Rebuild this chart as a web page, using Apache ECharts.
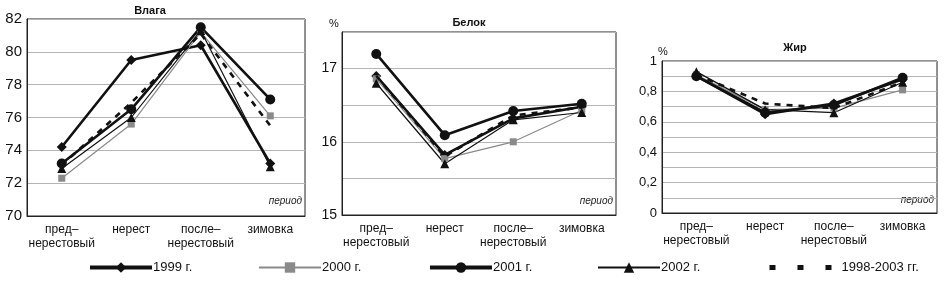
<!DOCTYPE html>
<html>
<head>
<meta charset="utf-8">
<script src="https://cdn.jsdelivr.net/npm/echarts@6/dist/echarts.min.js"></script>
<style>
  html, body { margin: 0; padding: 0; background: #fff; }
  #chart { width: 945px; height: 285px; }
</style>
</head>
<body>
<div id="chart"></div>
<script>
// периоды
const periods = ['пред–\nнерестовый', 'нерест', 'после–\nнерестовый', 'зимовка'];
const years = ['1999 г.', '2000 г.', '2001 г.', '2002 г.', '1998-2003 гг.'];

// Влага
const moisture1999 = [74.2, 79.5, 80.4, 73.2];
const moisture2000 = [72.3, 75.6, 81.2, 76.1];
const moisture2001 = [73.2, 76.5, 81.5, 77.1];
const moisture2002 = [72.9, 76.0, 81.3, 73.0];
const moistureAvg = [73.1, 76.9, 81.1, 75.5];

// Белок
const protein1999 = [16.9, 15.82, 16.32, 16.48];
const protein2000 = [16.86, 15.77, 16.0, 16.43];
const protein2001 = [17.2, 16.09, 16.42, 16.52];
const protein2002 = [16.8, 15.7, 16.3, 16.4];
const proteinAvg = [16.9, 15.8, 16.36, 16.47];

// Жир
const fat1999 = [0.9, 0.65, 0.72, 0.88];
const fat2000 = [0.91, 0.68, 0.69, 0.81];
const fat2001 = [0.9, 0.66, 0.71, 0.89];
const fat2002 = [0.93, 0.68, 0.66, 0.86];
const fatAvg = [0.91, 0.72, 0.69, 0.86];

const FONT = "'Liberation Sans Narrow', 'Liberation Sans', Arial, sans-serif";

const chart = echarts.init(document.getElementById('chart'), null, { renderer: 'canvas' });

// стиль линий для каждого года
const styles = [
  { color: '#111', width: 2.6, symbol: 'diamond', size: 10, type: 'solid', legendWidth: 4 },
  { color: '#8a8a8a', width: 1.2, symbol: 'rect', size: 7, type: 'solid', legendWidth: 2 },
  { color: '#111', width: 2.6, symbol: 'circle', size: 10, type: 'solid', legendWidth: 4 },
  { color: '#111', width: 1.2, symbol: 'triangle', size: 9, type: 'solid', legendWidth: 2 },
  { color: '#111', width: 2.6, symbol: 'none', size: 0, type: [6, 6], legendWidth: 5 }
];

function makeSeries(idx, sets) {
  return sets.map((data, i) => ({
    name: years[i],
    type: 'line',
    xAxisIndex: idx,
    yAxisIndex: idx,
    data: data,
    symbol: styles[i].symbol,
    symbolSize: styles[i].size,
    showSymbol: styles[i].symbol !== 'none',
    itemStyle: { color: styles[i].color },
    lineStyle: { color: styles[i].color, width: styles[i].width, type: styles[i].type },
    z: i === 4 ? 3 : 2,
    animation: false
  }));
}

function xAxis(idx) {
  return {
    type: 'category',
    gridIndex: idx,
    data: periods,
    boundaryGap: true,
    axisTick: { show: false },
    axisLine: { lineStyle: { color: '#222' } },
    axisLabel: { color: '#111', fontFamily: FONT, fontSize: 12, margin: 7, lineHeight: 14, interval: 0 }
  };
}

function yAxis(idx, min, max, interval, formatter, fontSize) {
  return {
    type: 'value',
    gridIndex: idx,
    min: min,
    max: max,
    interval: interval,
    axisTick: { show: false },
    axisLine: { show: true, lineStyle: { color: '#222' } },
    splitLine: { lineStyle: { color: '#b5b5b5', width: 1 } },
    axisLabel: { color: '#111', fontFamily: FONT, fontSize: fontSize, margin: 5, formatter: formatter }
  };
}

const gridBase = { show: true, borderColor: '#222', borderWidth: 1, backgroundColor: 'transparent' };

function legendAt(i, left) {
  const item = { name: years[i], lineStyle: { width: styles[i].legendWidth } };
  let textPad = -4;
  if (i === 4) {
    item.itemStyle = { color: 'rgba(0,0,0,0)', borderColor: 'rgba(0,0,0,0)' };
    item.lineStyle.type = [6, 22];
    textPad = 5;
  }
  return {
    data: [item],
    left: left,
    top: 261,
    padding: 0,
    itemWidth: 62,
    itemHeight: 13,
    itemGap: 0,
    textStyle: { fontFamily: FONT, fontSize: 13, color: '#111', padding: [0, 0, 0, textPad] }
  };
}

const option = {
  animation: false,
  backgroundColor: '#fff',
  grid: [
    Object.assign({ left: 27, top: 19, width: 278, height: 197 }, gridBase),
    Object.assign({ left: 342, top: 32, width: 274, height: 183 }, gridBase),
    Object.assign({ left: 662, top: 61, width: 275, height: 152 }, gridBase)
  ],
  xAxis: [xAxis(0), xAxis(1), xAxis(2)],
  yAxis: [
    yAxis(0, 70, 82, 2, v => String(v), 15),
    yAxis(1, 15, 17.5, 0.5, v => (v % 1 === 0 ? String(v) : ''), 14),
    yAxis(2, 0, 1, 0.1, v => {
      const t = Math.round(v * 10);
      return t % 2 === 0 ? String(t / 10).replace('.', ',') : '';
    }, 13)
  ],
  legend: [
    legendAt(0, 88),
    legendAt(1, 258),
    legendAt(2, 428),
    legendAt(3, 597),
    legendAt(4, 767)
  ],
  title: [
    { text: 'Влага', left: 145, top: 0, textAlign: 'center', textStyle: { fontFamily: FONT, fontSize: 11, fontWeight: 'bold', color: '#111' } },
    { text: 'Белок', left: 464, top: 12, textAlign: 'center', textStyle: { fontFamily: FONT, fontSize: 11, fontWeight: 'bold', color: '#111' } },
    { text: 'Жир', left: 790, top: 37, textAlign: 'center', textStyle: { fontFamily: FONT, fontSize: 11, fontWeight: 'bold', color: '#111' } }
  ],
  graphic: [
    { type: 'text', left: 329, top: 18, style: { text: '%', fontFamily: FONT, fontSize: 11, fill: '#111' } },
    { type: 'text', left: 658, top: 46, style: { text: '%', fontFamily: FONT, fontSize: 11, fill: '#111' } },
    { type: 'text', right: 643, top: 196, style: { text: 'период', fontFamily: FONT, fontSize: 10, fontStyle: 'italic', fill: '#222' } },
    { type: 'text', right: 332, top: 196, style: { text: 'период', fontFamily: FONT, fontSize: 10, fontStyle: 'italic', fill: '#222' } },
    { type: 'text', right: 11, top: 195, style: { text: 'период', fontFamily: FONT, fontSize: 10, fontStyle: 'italic', fill: '#222' } }
  ],
  series: [].concat(
    makeSeries(0, [moisture1999, moisture2000, moisture2001, moisture2002, moistureAvg]),
    makeSeries(1, [protein1999, protein2000, protein2001, protein2002, proteinAvg]),
    makeSeries(2, [fat1999, fat2000, fat2001, fat2002, fatAvg])
  )
};

chart.setOption(option);
</script>
</body>
</html>
